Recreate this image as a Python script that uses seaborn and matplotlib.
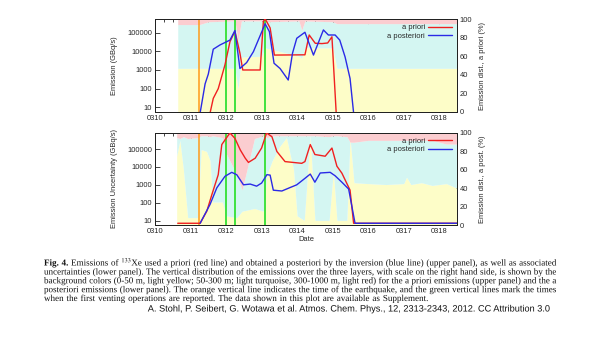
import numpy as np
import pandas as pd
import matplotlib
matplotlib.use("Agg")
import matplotlib.pyplot as plt
import matplotlib.patheffects as pe
from matplotlib.textpath import TextPath
from matplotlib.font_manager import FontProperties
import seaborn as sns
from matplotlib.ticker import FixedLocator, FixedFormatter, MultipleLocator, NullFormatter

# ------------------------------------------------------------------ data
day_ticks = [10, 11, 12, 13, 14, 15, 16, 17, 18]
day_labels = ["0310", "0311", "0312", "0313", "0314", "0315", "0316", "0317", "0318"]
log_ticks = [10, 100, 1000, 10000, 100000]
log_labels = ["10", "100", "1000", "10000", "100000"]
pct_ticks = [0, 20, 40, 60, 80, 100]

quake_time = 11.24
venting_times = [12.0, 12.26, 13.1]

# upper panel: emissions (GBq/s)
prior_t = [11.55, 11.64, 11.78, 11.97, 12.11, 12.25, 12.39, 12.47, 12.96, 13.05, 13.1,
           13.24, 13.36, 14.22, 14.34, 14.51, 14.7, 14.86, 14.98, 15.1]
prior_v = [5, 30, 100, 1900, 33000, 120000, 8000, 1000, 1000, 400000, 550000,
           180000, 6300, 6500, 75000, 27000, 26000, 28000, 60000, 5]

post_t = [11.27, 11.41, 11.5, 11.64, 11.83, 12.11, 12.25, 12.39, 12.58, 12.77, 13.1,
          13.22, 13.35, 13.52, 13.75, 13.87, 13.99, 14.22, 14.46, 14.74, 14.88, 15.07,
          15.2, 15.35, 15.49, 15.59]
post_v = [5, 180, 600, 13000, 22000, 40000, 130000, 1200, 2500, 9600, 300000,
          113000, 2300, 1200, 290, 7900, 50000, 105000, 6300, 140000, 75000, 75000,
          40000, 5000, 350, 5]

# upper panel: vertical distribution of a priori emissions (%)
dist_prior_t = [10.64, 11.25, 11.5, 12.25, 12.34, 12.43, 13.0, 13.1, 14.05, 14.13,
                14.22, 15.0, 15.12, 18.5]
dist_prior_low = [47, 47, 47, 47, 25, 59, 60, 69, 60, 58, 69, 69, 47, 47]
dist_prior_high = [6, 6, 3, 2, 23, 2, 2, 3, 2, 12, 2, 3, 5, 5]

# lower panel: emission uncertainties (GBq/s)
unc_prior_t = [10.64, 11.27, 11.46, 11.6, 11.78, 11.88, 12.0, 12.11, 12.25, 12.4,
               12.54, 12.63, 12.82, 13.0, 13.14, 13.29, 13.43, 13.66, 14.13, 14.22,
               14.37, 14.5, 14.79, 14.98, 15.12, 15.26, 15.49, 15.59, 18.5]
unc_prior_v = [7, 7, 34, 280, 3700, 180000, 400000, 800000, 400000, 90000,
               31000, 18000, 31000, 115000, 800000, 500000, 74000, 20000, 16000, 20000,
               180000, 50000, 40000, 115000, 11000, 4500, 500, 7, 7]

unc_post_t = [11.27, 11.55, 11.74, 11.97, 12.16, 12.3, 12.49, 12.68, 12.86, 13.0,
              13.15, 13.24, 13.33, 13.57, 13.8, 13.99, 14.22, 14.37, 14.5, 14.65,
              14.93, 15.07, 15.26, 15.45, 15.63, 18.5]
unc_post_v = [7, 80, 680, 3000, 5000, 3700, 1000, 1100, 840, 1250,
              3700, 3500, 500, 450, 700, 1000, 2300, 4000, 1400, 4600,
              5000, 3200, 1400, 580, 7, 7]

# lower panel: vertical distribution of a posteriori emissions (%)
dist_post_t = [10.61, 10.7, 10.8, 10.92, 11.2, 11.3, 11.45, 11.55, 11.62, 11.9, 12.0,
               12.3, 12.45, 12.8, 13.05, 13.15, 13.3, 13.5, 13.7, 13.9, 14.0, 14.2,
               14.37, 14.5, 14.9, 15.02, 15.12, 15.4, 15.49, 15.6, 16.0, 16.5, 17.0,
               17.08, 17.2, 17.5, 17.8, 18.2, 18.5]
dist_post_low = [75, 92, 60, 8, 8, 82, 80, 70, 25, 25, 10,
                 8, 15, 18, 15, 55, 70, 85, 95, 60, 10, 5,
                 98, 5, 5, 59, 5, 5, 95, 46, 45, 44, 45,
                 52, 44, 46, 43, 45, 40]
dist_post_high = [5, 6, 4, 6, 5, 3, 3, 4, 3, 5, 22,
                  45, 62, 6, 3, 5, 3, 3, 3, 3, 3, 3,
                  3, 3, 4, 3, 3, 4, 10, 10, 8, 8, 8,
                  8, 8, 8, 8, 12, 12]

caption_lines = [
    "Fig. 4. Emissions of $^{133}$Xe used a priori (red line) and obtained a posteriori by the inversion (blue line) (upper panel), as well as associated",
    "uncertainties (lower panel). The vertical distribution of the emissions over the three layers, with scale on the right hand side, is shown by the",
    "background colors (0-50 m, light yellow; 50-300 m; light turquoise, 300-1000 m, light red) for the a priori emissions (upper panel) and the a",
    "posteriori emissions (lower panel). The orange vertical line indicates the time of the earthquake, and the green vertical lines mark the times",
    "when the first venting operations are reported. The data shown in this plot are available as Supplement.",
]
attribution = "A. Stohl, P. Seibert, G. Wotawa et al. Atmos. Chem. Phys., 12, 2313-2343, 2012. CC Attribution 3.0"

# ------------------------------------------------------------------ style
sns.set_style("white")
plt.rcParams["font.family"] = ["Liberation Sans", "DejaVu Sans"]
plt.rcParams["mathtext.fontset"] = "stix"

W, H = 600, 338
fig = plt.figure(figsize=(W / 100, H / 100), dpi=100)
fig.patch.set_facecolor("white")

C_YEL, C_TUR, C_RED = "#fdfdc8", "#d4f6f2", "#fbcdd0"
C_PRI, C_POS = "#f02020", "#2a2ae6"
FS = 5.4


def make_panel(top_px, bot_px, t_d, low, high, lines, ylab, rlab, ylim, xlabel=None):
    rect = [155 / W, 1 - bot_px / H, 302 / W, (bot_px - top_px) / H]
    ax_bg = fig.add_axes(rect)
    ax = ax_bg.twinx()
    # swap sides: log axis on the left, percent on the right
    ax.yaxis.tick_left()
    ax.yaxis.set_label_position("left")
    ax_bg.yaxis.tick_right()
    ax_bg.yaxis.set_label_position("right")

    t_arr = np.array(t_d)
    lo = np.array(low, float)
    hi = 100 - np.array(high, float)
    ax_bg.fill_between(t_arr, 0, lo, color=C_YEL, lw=0)
    ax_bg.fill_between(t_arr, lo, hi, color=C_TUR, lw=0)
    ax_bg.fill_between(t_arr, hi, 100, color=C_RED, lw=0)
    ax_bg.set_ylim(0, 100)
    ax_bg.set_xlim(10, 18.5)
    ax_bg.yaxis.set_major_locator(FixedLocator(pct_ticks))
    ax_bg.set_ylabel(rlab, fontsize=FS, labelpad=5)
    ax_bg.xaxis.set_major_locator(FixedLocator(day_ticks))
    ax_bg.xaxis.set_major_formatter(FixedFormatter(day_labels))
    ax_bg.xaxis.set_minor_locator(MultipleLocator(0.25))
    ax_bg.tick_params(axis="both", which="both", direction="in", labelsize=FS,
                      top=True, pad=2, width=0.6)
    ax_bg.tick_params(axis="both", which="major", length=3.5)
    ax_bg.tick_params(axis="x", which="minor", length=1.8)
    ax_bg.tick_params(axis="y", left=False)
    if xlabel:
        ax_bg.set_xlabel(xlabel, fontsize=FS, labelpad=1)

    ax.set_yscale("log")
    ax.axvline(quake_time, color="#ff9a1a", lw=1.1, zorder=1)
    for vt in venting_times:
        ax.axvline(vt, color="#33e033", lw=1.3, zorder=1)
    for (tt, vv, col, lab) in lines:
        sns.lineplot(x=tt, y=vv, ax=ax, color=col, lw=1.0, label=lab, zorder=3)
    ax.set_ylim(*ylim)
    ax.set_xlim(10, 18.5)
    ax.yaxis.set_major_locator(FixedLocator(log_ticks))
    ax.yaxis.set_major_formatter(FixedFormatter(log_labels))
    ax.yaxis.set_minor_formatter(NullFormatter())
    ax.yaxis.set_minor_locator(FixedLocator([]))
    ax.tick_params(axis="y", which="both", direction="in", labelsize=FS, pad=2,
                   length=3.5, width=0.6, right=False)
    ax.set_ylabel(ylab, fontsize=FS, labelpad=7)
    ax.legend(loc="upper right", frameon=False, markerfirst=False,
              fontsize=FS, handlelength=3.2, handletextpad=0.4,
              labelspacing=0.15, borderaxespad=0.25)
    for sp in list(ax.spines.values()) + list(ax_bg.spines.values()):
        sp.set_linewidth(0.7)
        sp.set_color("#222222")
    return ax_bg, ax


make_panel(19, 112, dist_prior_t, dist_prior_low, dist_prior_high,
           [(prior_t, prior_v, C_PRI, "a priori"), (post_t, post_v, C_POS, "a posteriori")],
           "Emission (GBq/s)", "Emission dist., a priori (%)", (5.6, 5.4e5))
make_panel(133, 225, dist_post_t, dist_post_low, dist_post_high,
           [(unc_prior_t, unc_prior_v, C_PRI, "a priori"), (unc_post_t, unc_post_v, C_POS, "a posteriori")],
           "Emission Uncertainty (GBq/s)", "Emission dist., a post. (%)", (5.6, 8e5), xlabel="Date")

# ------------------------------------------------------------------ caption
SERIF = ["Liberation Serif", "DejaVu Serif"]
SANS = ["Liberation Sans", "DejaVu Sans"]
as_path = [pe.Normal()]   # draw glyph outlines unhinted, matching the path widths below


def pwidth(s, fs, weight="normal", family=SERIF):
    """advance width (px) of the outline of s"""
    fp = FontProperties(family=family, weight=weight, size=fs)
    tp = TextPath((0, 0), s + "|", size=fs, prop=fp)
    tb = TextPath((0, 0), "|", size=fs, prop=fp)
    return (tp.get_extents().x1 - tb.get_extents().width) * 100 / 72


fs0 = 6.0
fit5 = fs0 * (418 - 44) / pwidth(caption_lines[-1], fs0)
fit2 = fs0 * 511 / pwidth(caption_lines[1], fs0)
cap_fs = min(fit5, fit2)

baselines = [265.5, 274.5, 283.3, 292.2, 301.0]
x0, x1 = 44, 557
nat_gap = pwidth("a b", cap_fs) - pwidth("ab", cap_fs)
for li, (line, yb) in enumerate(zip(caption_lines, baselines)):
    words = line.split(" ")
    objs, widths = [], []
    for wi, wd in enumerate(words):
        wt = "bold" if (li == 0 and wi < 2) else "normal"
        t = fig.text(0, 1 - yb / H, wd, fontsize=cap_fs, family=SERIF, color="#111111",
                     fontweight=wt, va="baseline", ha="left", path_effects=as_path)
        widths.append(pwidth(wd, cap_fs, weight=wt))
        objs.append(t)
    if li < len(caption_lines) - 1:
        gap = (x1 - x0 - sum(widths)) / (len(words) - 1)
    else:
        gap = nat_gap
    x = x0
    for t, w in zip(objs, widths):
        t.set_x(x / W)
        x += w + gap

attr_fs = 6.0 * (550 - 147) / pwidth(attribution, 6.0, family=SANS)
fig.text(348.5 / W, 1 - 309 / H, attribution, fontsize=attr_fs, family=SANS,
         ha="center", va="center", color="#111111", path_effects=as_path)

fig.savefig("out.png", dpi=100, facecolor="white")
